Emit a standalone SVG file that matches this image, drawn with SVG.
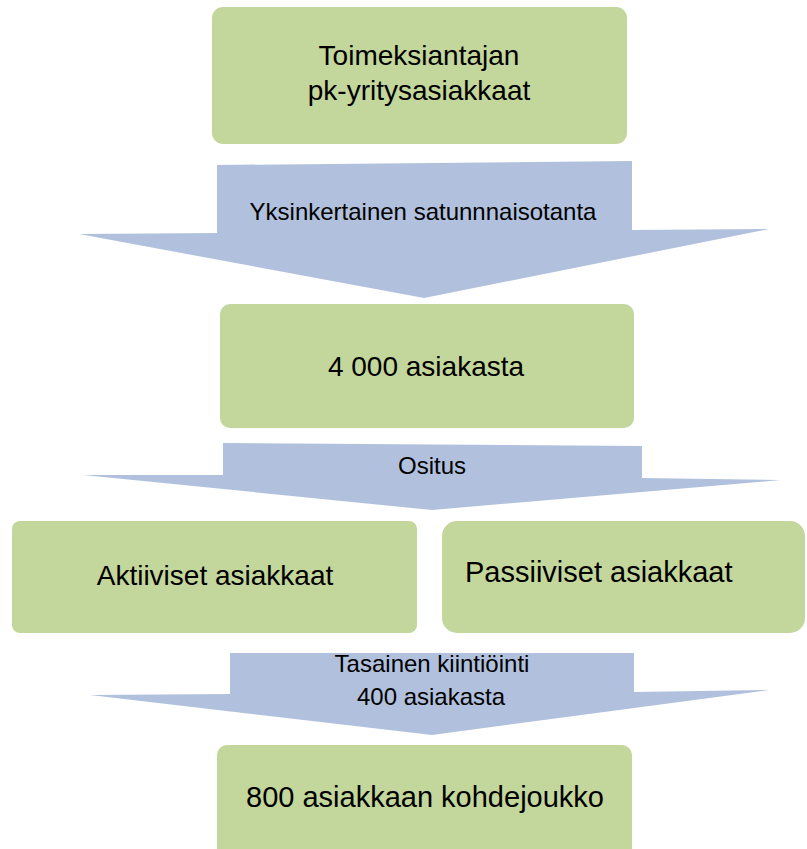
<svg xmlns="http://www.w3.org/2000/svg" width="807" height="849" viewBox="0 0 807 849">
  <style>
    .box { fill: #C3D69B; }
    .arrow { fill: #B1C1DD; }
    text { font-family: "Liberation Sans", Arial, sans-serif; fill: #000000; }
    .big { font-size: 28px; }
    .lbl { font-size: 24px; }
  </style>
  <rect width="807" height="849" fill="#FFFFFF"/>
  <g id="connectors">
    <g id="arrow1">
      <polygon class="arrow" points="217,165 632,161 632,230 769,229 424,298 79,234 217,233"/>
      <text class="lbl" x="423" y="220" text-anchor="middle">Yksinkertainen satunnnaisotanta</text>
    </g>
    <g id="arrow2">
      <polygon class="arrow" points="223,443 642,446 642,478 781,480 432,510 83,475 223,475"/>
      <text class="lbl" x="432" y="474" text-anchor="middle">Ositus</text>
    </g>
    <g id="arrow3">
      <polygon class="arrow" points="230,653 634,653 634,692 769,690 432,735 90,695 230,694"/>
      <text class="lbl" x="432" y="672" text-anchor="middle">Tasainen kiintiöinti</text>
      <text class="lbl" x="431" y="705" text-anchor="middle">400 asiakasta</text>
    </g>
  </g>
  <g id="node-toimeksiantajan">
    <rect class="box" x="212" y="7" width="415" height="137" rx="11"/>
    <text class="big" x="419" y="65" text-anchor="middle">Toimeksiantajan</text>
    <text class="big" x="419" y="100" text-anchor="middle">pk-yritysasiakkaat</text>
  </g>
  <g id="node-4000">
    <rect class="box" x="220" y="304" width="414" height="124" rx="10"/>
    <text class="big" x="426" y="376" text-anchor="middle">4 000 asiakasta</text>
  </g>
  <g id="node-aktiiviset">
    <rect class="box" x="12" y="521" width="405" height="112" rx="8"/>
    <text class="big" x="215" y="585" text-anchor="middle">Aktiiviset asiakkaat</text>
  </g>
  <g id="node-passiiviset">
    <rect class="box" x="442" y="521" width="363" height="112" rx="15"/>
    <text class="big" x="465" y="582" style="font-size:29px">Passiiviset asiakkaat</text>
  </g>
  <g id="node-800">
    <rect class="box" x="217" y="745" width="415" height="115" rx="10"/>
    <text class="big" x="425" y="807" text-anchor="middle" style="font-size:29px">800 asiakkaan kohdejoukko</text>
  </g>
</svg>
